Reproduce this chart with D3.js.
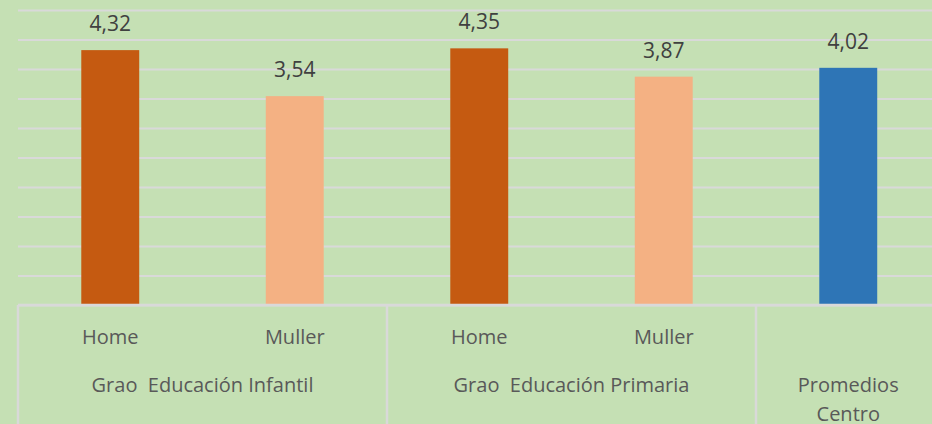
<!DOCTYPE html>
<html>
<head>
<meta charset="utf-8">
<script src="https://cdn.jsdelivr.net/npm/d3@7"></script>
<style>
  body { margin: 0; background: #c5e0b4; }
  text { font-family: "Open Sans", sans-serif; }
</style>
</head>
<body>
<div id="chart"></div>
<script>
// data
const barKeys = ['b1', 'b2', 'b3', 'b4', 'b5'];
const subLabels = ['Home', 'Muller', 'Home', 'Muller', ''];
const values = [4.32, 3.54, 4.35, 3.87, 4.02];
const barColors = ['#c55a11', '#f4b183', '#c55a11', '#f4b183', '#2e75b6'];
const groupLabels = [['Grao  Educación Infantil'], ['Grao  Educación Primaria'], ['Promedios', 'Centro']];
const groupSizes = [2, 2, 1];
const yTicks = [0, 0.5, 1, 1.5, 2, 2.5, 3, 3.5, 4, 4.5, 5];

const W = 932, H = 424;
const plotLeft = 18, plotRight = 940.5, plotTop = 10, plotBottom = 305;

const svg = d3.select('#chart')
  .append('svg')
  .attr('width', W)
  .attr('height', H);

svg.append('rect').attr('width', W).attr('height', H).attr('fill', '#c5e0b4');

const x = d3.scaleBand()
  .domain(barKeys)
  .range([plotLeft, plotRight])
  .paddingInner(0.686)
  .paddingOuter(0.343);

const y = d3.scaleLinear()
  .domain([0, 5])
  .range([plotBottom, plotTop]);

// gridlines
const grid = svg.append('g')
  .attr('transform', `translate(${plotLeft},0)`)
  .call(d3.axisLeft(y).tickValues(yTicks).tickSize(-(plotRight - plotLeft)).tickFormat(''));
grid.select('.domain').remove();
grid.selectAll('line').attr('stroke', '#d9d9d9').attr('stroke-width', 2);

// bars
svg.selectAll('.bar')
  .data(values)
  .enter()
  .append('rect')
  .attr('class', 'bar')
  .attr('x', (d, i) => x(barKeys[i]))
  .attr('width', x.bandwidth())
  .attr('y', d => y(d))
  .attr('height', d => y(0) - y(d))
  .attr('fill', (d, i) => barColors[i]);

// value labels
svg.selectAll('.val')
  .data(values)
  .enter()
  .append('text')
  .attr('class', 'val')
  .attr('x', (d, i) => x(barKeys[i]) + x.bandwidth() / 2)
  .attr('y', d => y(d) - 19)
  .attr('text-anchor', 'middle')
  .attr('font-size', 21)
  .attr('fill', '#404040')
  .text(d => d.toFixed(2).replace('.', ','));

// category axis (sub labels)
const xaxis = svg.append('g')
  .attr('transform', `translate(0,${plotBottom})`)
  .call(d3.axisBottom(x).tickSize(0).tickPadding(0).tickFormat((d, i) => subLabels[i]));
xaxis.select('.domain').remove();
xaxis.selectAll('text')
  .attr('y', 39)
  .attr('dy', null)
  .attr('font-size', 20)
  .attr('font-family', '"Open Sans", sans-serif')
  .attr('fill', '#595959');

// baseline
svg.append('line')
  .attr('x1', plotLeft).attr('x2', plotRight)
  .attr('y1', y(0)).attr('y2', y(0))
  .attr('stroke', '#d9d9d9').attr('stroke-width', 2.5);

// group separators and labels
const step = x.step();
let start = 0;
const bounds = [0];
groupSizes.forEach(n => { start += n; bounds.push(start); });

svg.selectAll('.sep')
  .data(bounds)
  .enter()
  .append('line')
  .attr('class', 'sep')
  .attr('x1', d => plotLeft + d * step)
  .attr('x2', d => plotLeft + d * step)
  .attr('y1', plotBottom)
  .attr('y2', H)
  .attr('stroke', '#d9d9d9')
  .attr('stroke-width', 2.5);

const gl = svg.selectAll('.grp')
  .data(groupLabels)
  .enter()
  .append('text')
  .attr('class', 'grp')
  .attr('text-anchor', 'middle')
  .attr('font-size', 20)
  .attr('fill', '#595959')
  .style('white-space', 'pre')
  .attr('transform', (d, i) => `translate(${plotLeft + (bounds[i] + bounds[i + 1]) / 2 * step},${plotBottom + 87})`);

gl.selectAll('tspan')
  .data(d => d)
  .enter()
  .append('tspan')
  .attr('x', 0)
  .attr('y', (d, i) => i * 29)
  .text(d => d);
</script>
</body>
</html>
